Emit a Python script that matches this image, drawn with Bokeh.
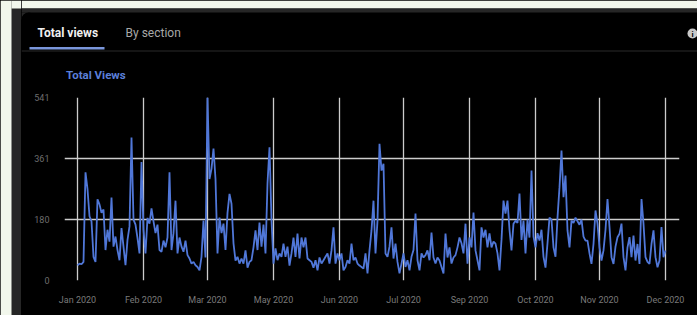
from bokeh.plotting import figure
from bokeh.models import Range1d, FixedTicker
from bokeh.layouts import row, column
from bokeh.core.properties import value
from bokeh.embed import file_html
from bokeh.resources import INLINE

# ---- data -------------------------------------------------------------
views = [
    45, 50, 48, 55, 320, 270, 190, 175, 70, 55,
    240, 225, 200, 210, 90, 150, 115, 245, 100, 130,
    90, 60, 155, 100, 45, 120, 160, 423, 180, 165,
    125, 80, 350, 150, 80, 185, 168, 213, 175, 140,
    165, 90, 85, 118, 98, 127, 320, 90, 140, 236,
    80, 127, 100, 85, 118, 75, 65, 50, 55, 45,
    40, 30, 70, 177, 68, 541, 300, 330, 390, 300,
    80, 186, 140, 168, 90, 200, 256, 227, 110, 59,
    70, 50, 65, 50, 89, 38, 55, 60, 98, 148,
    90, 171, 100, 165, 80, 287, 394, 180, 50, 95,
    60, 80, 70, 109, 70, 100, 44, 80, 127, 70,
    139, 65, 127, 98, 127, 65, 60, 55, 38, 60,
    30, 68, 50, 60, 70, 80, 50, 89, 157, 50,
    80, 60, 80, 30, 40, 60, 50, 109, 60, 68,
    50, 44, 40, 35, 80, 21, 89, 148, 236, 80,
    177, 404, 325, 345, 80, 70, 100, 157, 65, 109,
    55, 21, 50, 80, 40, 60, 30, 70, 90, 198,
    60, 30, 80, 68, 75, 89, 60, 142, 68, 50,
    68, 59, 40, 21, 139, 68, 98, 50, 68, 75,
    98, 127, 110, 80, 168, 50, 127, 98, 201, 89,
    60, 30, 157, 127, 150, 98, 139, 98, 115, 109,
    80, 30, 120, 236, 198, 236, 150, 89, 168, 177,
    170, 257, 120, 177, 80, 180, 127, 325, 130, 98,
    140, 118, 150, 70, 38, 110, 186, 180, 98, 70,
    186, 276, 384, 246, 310, 148, 98, 177, 170, 186,
    175, 165, 180, 130, 118, 118, 80, 49, 108, 207,
    168, 98, 59, 89, 150, 241, 158, 69, 49, 100,
    128, 138, 168, 69, 30, 98, 128, 69, 133, 59,
    108, 49, 241, 168, 69, 55, 49, 108, 148, 69,
    39, 59, 158, 69, 89,
]
days = list(range(len(views)))

tick_days = [0, 33, 65, 98, 131, 163, 196, 229, 261, 294]
tick_labels = ["Jan 2020", "Feb 2020", "Mar 2020", "May 2020", "Jun 2020",
               "Jul 2020", "Sep 2020", "Oct 2020", "Nov 2020", "Dec 2020"]
y_ticks = [0, 180, 361, 541]
y_grid = [0, 180, 361]

tabs = ["Total views", "By section"]
chart_title = "Total Views"

FONT = "Roboto"
PAGE_BG = "#f2f7ec"
CARD_EDGE = "#262626"
BLACK = {"background-color": "#000000"}


def bare(width, height, xr, yr):
    f = figure(width=width, height=height, output_backend="svg", toolbar_location=None,
               x_range=xr, y_range=yr, x_axis_location=None, y_axis_location=None,
               min_border=0, frame_align=False)
    f.min_border_left = f.min_border_right = f.min_border_top = f.min_border_bottom = 0
    f.grid.visible = False
    f.outline_line_color = None
    f.background_fill_color = "#000000"
    f.border_fill_color = "#000000"
    return f


# ---- left edge strip (page x 0..21) --------------------------------------
strip = bare(21, 315, Range1d(0, 21), Range1d(315, 0))
strip.background_fill_color = CARD_EDGE
strip.border_fill_color = CARD_EDGE
strip.quad(left=[0], right=[11], top=[0], bottom=[315], fill_color=PAGE_BG, line_color=None)
strip.quad(left=[11], right=[21], top=[0], bottom=[8], fill_color=PAGE_BG, line_color=None)

# ---- header (page x 21..697, y 0..90) ------------------------------------
head = bare(676, 90, Range1d(21, 697), Range1d(90, 0))
head.quad(left=[21], right=[697], top=[0], bottom=[8], fill_color=PAGE_BG, line_color=None)
head.quad(left=[21], right=[697], top=[8], bottom=[12], fill_color=CARD_EDGE, line_color=None)
head.quad(left=[21], right=[28], top=[12], bottom=[19], fill_color=CARD_EDGE, line_color=None)
head.circle(x=[28], y=[19], radius=7, fill_color="#000000", line_color=None)
head.quad(left=[21], right=[697], top=[50], bottom=[51], fill_color="#2a2a2a", line_color=None)
head.quad(left=[29], right=[104], top=[46.5], bottom=[49], fill_color="#7b97dc", line_color=None)
head.text(x=[37], y=[32.5], text=[tabs[0]], text_color="#f0f0f0", text_font=value(FONT),
          text_font_size="12px", text_font_style="bold", text_baseline="middle")
head.text(x=[125], y=[32.5], text=[tabs[1]], text_color="#a8a8a8", text_font=value(FONT),
          text_font_size="12px", text_baseline="middle")
head.text(x=[65.5], y=[74.5], text=[chart_title], text_color="#5b7fd8", text_font=value(FONT),
          text_font_size="11.5px", text_font_style="bold", text_baseline="middle")
head.scatter(x=[692], y=[33], size=10, marker="circle", fill_color="#c8c8c8", line_color=None)
head.text(x=[692], y=[33.5], text=["i"], text_color="#000000", text_font=value(FONT),
          text_font_size="8px", text_font_style="bold", text_align="center",
          text_baseline="middle")

# ---- chart (page x 21..697, y 90..315) -----------------------------------
p = figure(width=676, height=225, output_backend="svg", toolbar_location=None,
           x_range=Range1d(-6.5, 301), y_range=Range1d(0, 541),
           min_border_left=43, min_border_right=18,
           min_border_top=7, min_border_bottom=35, frame_align=False)
p.background_fill_color = "#000000"
p.border_fill_color = "#000000"
p.outline_line_color = None

p.xaxis.ticker = FixedTicker(ticks=tick_days)
p.xaxis.major_label_overrides = dict(zip(tick_days, tick_labels))
p.yaxis.ticker = FixedTicker(ticks=y_ticks)
for ax in (p.xaxis[0], p.yaxis[0]):
    ax.axis_line_color = None
    ax.major_tick_line_color = None
    ax.minor_tick_line_color = None
    ax.major_tick_out = 0
    ax.major_tick_in = 0
    ax.minor_tick_out = 0
    ax.minor_tick_in = 0
    ax.major_label_text_font = FONT
    ax.major_label_text_font_size = "9px"
p.xaxis.major_label_text_color = "#7a7a7a"
p.yaxis.major_label_text_color = "#6e6e6e"
p.xaxis.major_label_standoff = 14
p.yaxis.major_label_standoff = 15

p.xgrid.grid_line_color = "#cccccc"
p.xgrid.grid_line_width = 1.3
p.ygrid.ticker = FixedTicker(ticks=y_grid)
p.ygrid.grid_line_color = "#cccccc"
p.ygrid.grid_line_width = 1.3

p.line(days, views, line_color="#5077d8", line_width=1.8)

right_col = column(head, p, spacing=0, styles=BLACK)
layout = row(strip, right_col, spacing=0, styles=BLACK)
html = file_html(layout, INLINE)
html = html.replace("<body>", '<body style="background:#000000">', 1)
open("out.html", "w").write(html)
